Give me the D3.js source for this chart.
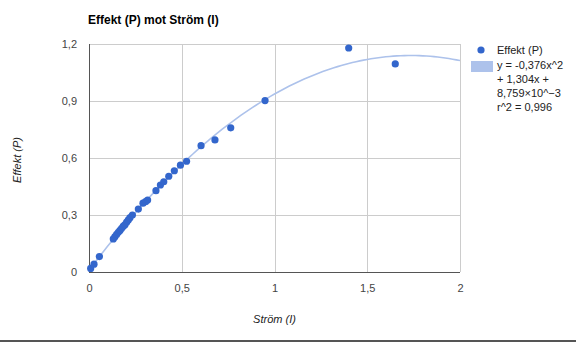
<!DOCTYPE html>
<html>
<head>
<meta charset="utf-8">
<script src="https://cdn.jsdelivr.net/npm/d3@7"></script>
<style>
  html, body { margin: 0; padding: 0; background: #fff; }
  svg { display: block; font-family: Arial, "Liberation Sans", sans-serif; }
</style>
</head>
<body>
<svg id="chart" width="576" height="344"></svg>
<script>
// Measured current (I) and power (P)
const strom = [0.009, 0.027, 0.056, 0.131, 0.140, 0.149, 0.158, 0.167, 0.176, 0.185,
  0.194, 0.203, 0.212, 0.221, 0.234, 0.266, 0.291, 0.305, 0.316, 0.361,
  0.385, 0.403, 0.430, 0.460, 0.493, 0.526, 0.604, 0.679, 0.764, 0.949,
  1.400, 1.651];
const effekt = [0.019, 0.041, 0.081, 0.174, 0.186, 0.198, 0.209, 0.219, 0.230, 0.241,
  0.249, 0.262, 0.274, 0.286, 0.300, 0.331, 0.362, 0.370, 0.379, 0.428,
  0.458, 0.475, 0.504, 0.533, 0.562, 0.583, 0.665, 0.695, 0.759, 0.902,
  1.179, 1.095];

// Polynomial trendline coefficients (a x^2 + b x + c)
const trendCoef = [-0.376, 1.304, 8.759e-3];
const trendLabel = ["y = -0,376x^2", "+ 1,304x +", "8,759\u00d710^\u22123", "r^2 = 0,996"];

const xTicks = [0, 0.5, 1, 1.5, 2];
const yTicks = [0, 0.3, 0.6, 0.9, 1.2];

const title = "Effekt (P) mot Str\u00f6m (I)";
const xTitle = "Str\u00f6m (I)";
const yTitle = "Effekt (P)";
const seriesName = "Effekt (P)";

const svg = d3.select("#chart");
const W = 576, H = 344;
const plot = { left: 89, right: 460, top: 44, bottom: 272 };

const locale = d3.formatLocale({ decimal: ",", thousands: "\u00a0", grouping: [3], currency: ["", ""] });
const fmt = locale.format("~g");

const x = d3.scaleLinear().domain([0, 2]).range([plot.left, plot.right]);
const y = d3.scaleLinear().domain([0, 1.2]).range([plot.bottom, plot.top]);

const pointColor = "#3366cc";
const trendColor = "#adc2eb";

// Title
svg.append("text")
  .attr("x", 88).attr("y", 24)
  .attr("font-size", 12).attr("font-weight", "bold").attr("fill", "#000")
  .text(title);

// Gridlines
const grid = svg.append("g");
grid.selectAll("line.h").data(yTicks.filter(d => d !== 0)).join("line")
  .attr("x1", plot.left).attr("x2", plot.right)
  .attr("y1", d => y(d) + 0.5).attr("y2", d => y(d) + 0.5)
  .attr("stroke", "#cccccc").attr("stroke-width", 1);
grid.selectAll("line.v").data(xTicks.filter(d => d !== 0)).join("line")
  .attr("y1", plot.top).attr("y2", plot.bottom)
  .attr("x1", d => Math.round(x(d)) + 0.5).attr("x2", d => Math.round(x(d)) + 0.5)
  .attr("stroke", "#cccccc").attr("stroke-width", 1);

// Axes
const xAxis = svg.append("g")
  .attr("transform", `translate(0,${plot.bottom})`)
  .call(d3.axisBottom(x).tickValues(xTicks).tickFormat(fmt).tickSize(0).tickPadding(12));
xAxis.select(".domain").remove();
xAxis.selectAll("text").attr("font-size", 11).attr("fill", "#444").attr("font-family", null);

const yAxis = svg.append("g")
  .attr("transform", `translate(${plot.left},0)`)
  .call(d3.axisLeft(y).tickValues(yTicks).tickFormat(fmt).tickSize(0).tickPadding(12));
yAxis.select(".domain").remove();
yAxis.selectAll("text").attr("font-size", 11).attr("fill", "#444").attr("font-family", null);

// Baselines
svg.append("line")
  .attr("x1", plot.left).attr("x2", plot.right)
  .attr("y1", plot.bottom + 0.5).attr("y2", plot.bottom + 0.5)
  .attr("stroke", "#555").attr("stroke-width", 1);
svg.append("line")
  .attr("x1", plot.left + 0.5).attr("x2", plot.left + 0.5)
  .attr("y1", plot.top).attr("y2", plot.bottom)
  .attr("stroke", "#555").attr("stroke-width", 1);

// Trendline
svg.append("clipPath").attr("id", "plotClip")
  .append("rect")
  .attr("x", plot.left).attr("y", plot.top)
  .attr("width", plot.right - plot.left).attr("height", plot.bottom - plot.top);
const trendFn = v => trendCoef[0] * v * v + trendCoef[1] * v + trendCoef[2];
const trendXs = d3.range(0, 2.0001, 0.02);
svg.append("path")
  .datum(trendXs)
  .attr("clip-path", "url(#plotClip)")
  .attr("fill", "none")
  .attr("stroke", trendColor)
  .attr("stroke-width", 1.6)
  .attr("d", d3.line().x(d => x(d)).y(d => y(trendFn(d))).curve(d3.curveLinear));

// Points
const pts = strom.map((v, i) => ({ x: v, y: effekt[i] }));
svg.append("g").selectAll("circle").data(pts).join("circle")
  .attr("cx", d => x(d.x)).attr("cy", d => y(d.y))
  .attr("r", 3.6).attr("fill", pointColor);

// Axis titles
svg.append("text")
  .attr("x", (plot.left + plot.right) / 2).attr("y", 323)
  .attr("text-anchor", "middle").attr("font-size", 11).attr("font-style", "italic").attr("fill", "#222")
  .text(xTitle);
svg.append("text")
  .attr("transform", "translate(21,160) rotate(-90)")
  .attr("text-anchor", "middle").attr("font-size", 11).attr("font-style", "italic").attr("fill", "#222")
  .text(yTitle);

// Legend
const legend = svg.append("g");
legend.append("circle").attr("cx", 481).attr("cy", 50).attr("r", 3.6).attr("fill", pointColor);
legend.append("text").attr("x", 497).attr("y", 54)
  .attr("font-size", 11).attr("fill", "#222").text(seriesName);
legend.append("rect").attr("x", 471).attr("y", 61).attr("width", 22).attr("height", 11)
  .attr("fill", trendColor);
legend.selectAll("text.trend").data(trendLabel).join("text")
  .attr("class", "trend")
  .attr("x", 497).attr("y", (d, i) => 69 + i * 14)
  .attr("font-size", 11).attr("fill", "#222").text(d => d);

// Bottom rule
svg.append("rect").attr("x", 0).attr("y", 340).attr("width", W).attr("height", 2).attr("fill", "#555");
</script>
</body>
</html>
